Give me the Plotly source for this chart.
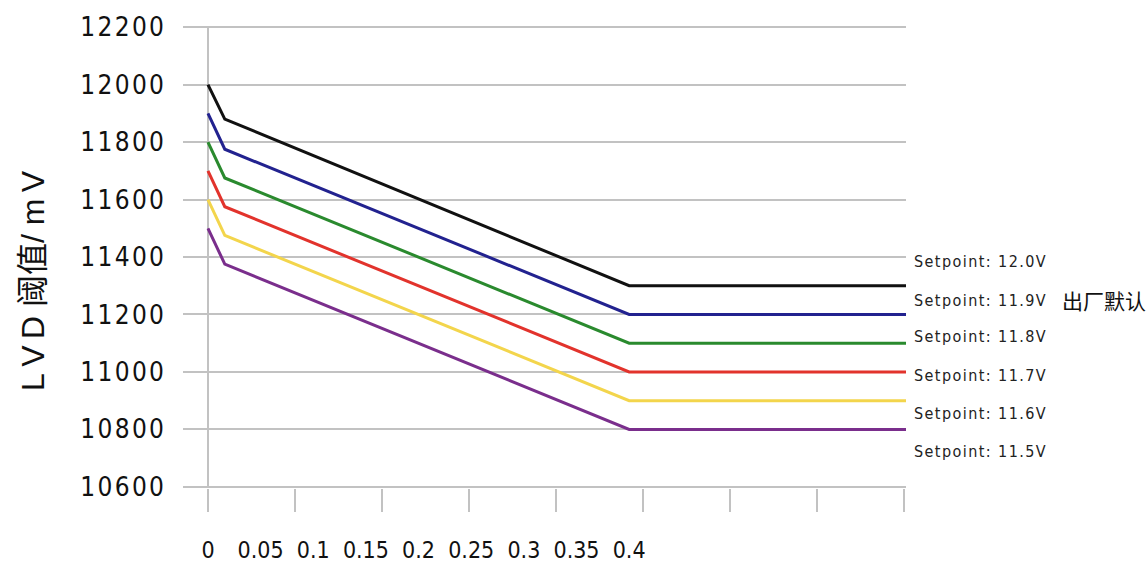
import plotly.graph_objects as go

# ---- data ----
x_points = [0, 0.016, 0.4, 0.6629]
setpoints_mv = [12000, 11900, 11800, 11700, 11600, 11500]
kink_mv = [11880, 11775, 11675, 11575, 11475, 11375]
floor_mv = [11300, 11200, 11100, 11000, 10900, 10800]
series_names = ["Setpoint: 12.0V", "Setpoint: 11.9V", "Setpoint: 11.8V",
                "Setpoint: 11.7V", "Setpoint: 11.6V", "Setpoint: 11.5V"]
colors = ["#111111", "#22228f", "#2a8a2e", "#e2332c", "#f3d54c", "#7a2e8c"]
y_ticks = [10600, 10800, 11000, 11200, 11400, 11600, 11800, 12000, 12200]
x_ticks = [0, 0.05, 0.1, 0.15, 0.2, 0.25, 0.3, 0.35, 0.4]
x_tick_text = ["0", "0.05", "0.1", "0.15", "0.2", "0.25", "0.3", "0.35", "0.4"]
default_note = "出厂默认"

# label placement (positions of the right-hand notes, in y units)
label_y = [11383, 11250, 11122, 10986, 10857, 10722]

X_RANGE = [-0.0237, 0.6629]
Y_RANGE = [10596, 12204]
MARK_STEP = 0.0826

NARROW = "DejaVu Sans Condensed, Liberation Sans Narrow, Liberation Sans, sans-serif"
CJK = "Noto Sans CJK SC, sans-serif"
GRID = "#c2c2c2"


def spaced(s, sep="\u200a"):
    return sep.join(list(s))


fig = go.Figure()
for i in range(len(setpoints_mv)):
    fig.add_trace(go.Scatter(
        x=x_points,
        y=[setpoints_mv[i], kink_mv[i], floor_mv[i], floor_mv[i]],
        mode="lines",
        line=dict(color=colors[i], width=3),
        name=series_names[i],
        showlegend=False,
    ))

# helper trace for the secondary axis carrying the tick marks
fig.add_trace(go.Scatter(x=[None], y=[None], xaxis="x2", showlegend=False,
                         hoverinfo="skip"))

fig.update_layout(
    width=1146, height=570,
    margin=dict(l=183, r=240, t=26, b=82),
    paper_bgcolor="white", plot_bgcolor="white",
    xaxis=dict(
        range=X_RANGE, tickvals=x_ticks,
        ticktext=x_tick_text,
        ticks="", showgrid=False, showline=False, tickangle=0,
        zeroline=True, zerolinecolor=GRID, zerolinewidth=2,
        tickfont=dict(family=NARROW, size=23, color="#111111"),
        ticklabelstandoff=46, automargin=False,
    ),
    xaxis2=dict(
        range=X_RANGE, overlaying="x", anchor="y", side="bottom",
        tickvals=[i * MARK_STEP for i in range(9)],
        ticks="outside", ticklen=23, tickwidth=2, tickcolor=GRID,
        showticklabels=False, showgrid=False, zeroline=False, showline=False,
    ),
    yaxis=dict(
        range=Y_RANGE, tickvals=y_ticks,
        ticktext=[spaced(str(v)) for v in y_ticks],
        ticks="", showgrid=True, gridcolor=GRID, gridwidth=2,
        zeroline=False, showline=False,
        tickfont=dict(family=NARROW, size=26, color="#111111"),
        ticklabelstandoff=18, automargin=False,
    ),
)

# y-axis title
fig.add_annotation(
    text="L\u2009V\u2009D 阈值/ m\u2009V", textangle=-90,
    xref="paper", yref="paper", x=-0.2075, y=0.45,
    xanchor="center", yanchor="middle", showarrow=False,
    font=dict(family="Liberation Sans, Noto Sans CJK SC, sans-serif",
              size=32, color="#111111"),
)

for name, yv in zip(series_names, label_y):
    fig.add_annotation(
        text=spaced(name), xref="paper", yref="y",
        x=1.0083, y=yv, xanchor="left", yanchor="middle", showarrow=False,
        font=dict(family=NARROW, size=16, color="#222222"),
    )

fig.add_annotation(
    text=default_note, xref="paper", yref="y", x=1.213, y=label_y[1],
    xanchor="left", yanchor="middle", showarrow=False,
    font=dict(family=CJK, size=21, color="#111111"),
)

fig.write_html("out.html")
